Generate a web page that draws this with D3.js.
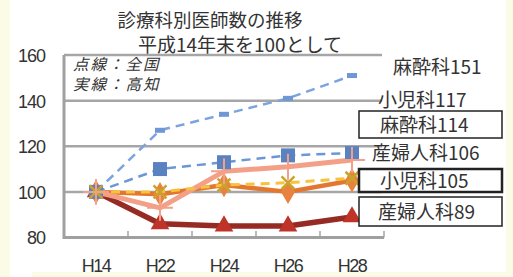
<!DOCTYPE html>
<html>
<head>
<meta charset="utf-8">
<script src="https://cdn.jsdelivr.net/npm/d3@7"></script>
<style>
  html, body { margin: 0; padding: 0; background: #fbfbe6; }
  svg { display: block; }
  .num { font-family: "Liberation Sans Narrow", "Liberation Sans", Arial, sans-serif; font-size: 18px; fill: #333; }
  .jp { font-family: "Noto Sans CJK JP", sans-serif; fill: #333; }
</style>
</head>
<body>
<svg id="chart" width="513" height="277"></svg>
<script>
const categories = ['H14', 'H22', 'H24', 'H26', 'H28'];
const yTicks = [80, 100, 120, 140, 160];

// 全国 (dashed)
const zenkokuMasui = [100, 127, 134, 141, 151];
const zenkokuShoni = [100, 110, 113, 116, 117];
const zenkokuSanpu = [100, 100, 103, 104, 106];
// 高知 (solid)
const kochiMasui = [100, 93, 109, 111, 114];
const kochiShoni = [100, 99, 103, 100, 105];
const kochiSanpu = [100, 86, 85, 85, 89];

const titleLines = ['診療科別医師数の推移', '平成14年末を100として'];
const noteLines = ['点線：全国', '実線：高知'];

const svg = d3.select('#chart');

// panel background
svg.append('rect').attr('x', 10).attr('y', 0).attr('width', 496).attr('height', 272).attr('fill', '#fff');
svg.append('rect').attr('x', 10).attr('y', 270).attr('width', 22).attr('height', 7).attr('fill', '#fff');

const x = d3.scaleBand().domain(categories).range([64, 384]);
const y = d3.scaleLinear().domain([80, 160]).range([237.5, 55]);
const cx = (d) => x(d) + x.bandwidth() / 2;

// gridlines
svg.append('g')
    .selectAll('line')
    .data(yTicks.filter((t) => t > 80))
    .join('line')
    .attr('x1', 64).attr('x2', 382)
    .attr('y1', (d) => y(d)).attr('y2', (d) => y(d))
    .attr('stroke', '#a6a6a6').attr('stroke-width', 2.5);

// y labels
const yAxis = svg.append('g')
    .attr('transform', 'translate(45,0)')
    .call(d3.axisLeft(y).tickValues(yTicks).tickSize(0).tickPadding(0));
yAxis.select('.domain').remove();
yAxis.selectAll('text').attr('class', 'num').attr('font-size', null).attr('font-family', null)
    .attr('dy', '0.36em').attr('letter-spacing', -1);

// x axis
const xAxis = svg.append('g')
    .attr('transform', 'translate(0,237.5)')
    .call(d3.axisBottom(x).tickSize(0).tickPadding(0));
xAxis.select('.domain').remove();
xAxis.selectAll('text').attr('class', 'num').attr('font-size', null).attr('font-family', null)
    .attr('dy', 34).attr('letter-spacing', -1.5);

svg.append('g')
    .selectAll('line')
    .data(categories.slice(1).map((d) => x(d)).concat([384]))
    .join('line')
    .attr('x1', (d) => d).attr('x2', (d) => d)
    .attr('y1', 231).attr('y2', 237.5)
    .attr('stroke', '#a6a6a6').attr('stroke-width', 1.5);

svg.append('path')
    .attr('d', 'M64,55 L64,237.5 L384,237.5')
    .attr('fill', 'none').attr('stroke', '#a0a0a0').attr('stroke-width', 3);

const line = d3.line().x((d, i) => cx(categories[i])).y((d) => y(d));

function drawLine(values, color, w, dash) {
    svg.append('path')
        .datum(values)
        .attr('d', line)
        .attr('fill', 'none')
        .attr('stroke', color)
        .attr('stroke-width', w)
        .attr('stroke-linejoin', 'round')
        .attr('stroke-dasharray', dash || null);
}

function drawMarkers(values, symbol, size, fill, stroke, sw) {
    svg.append('g')
        .selectAll('path')
        .data(values)
        .join('path')
        .attr('transform', (d, i) => `translate(${cx(categories[i])},${y(d)})`)
        .attr('d', d3.symbol(symbol, size))
        .attr('fill', fill)
        .attr('stroke', stroke || 'none')
        .attr('stroke-width', sw || 0);
}

// 高知
drawLine(kochiSanpu, '#952b22', 5.5);
drawMarkers(kochiSanpu, d3.symbolTriangle, 150, '#be3428');
drawLine(kochiShoni, '#e3772f', 4.5);
drawMarkers(kochiShoni, d3.symbolDiamond, 170, '#e8823e');
drawLine(kochiMasui, '#f4a088', 5);

// 全国
drawLine(zenkokuMasui, '#7ba3de', 2.5, '9,6');
svg.append('g')
    .selectAll('rect')
    .data(zenkokuMasui)
    .join('rect')
    .attr('x', (d, i) => cx(categories[i]) - 5)
    .attr('y', (d) => y(d) - 2.5)
    .attr('width', 10).attr('height', 5)
    .attr('fill', '#6f97d5');
drawLine(zenkokuShoni, '#6b97d6', 2.5, '9,6');
drawMarkers(zenkokuShoni, d3.symbolSquare, 196, '#5b82c0');
drawLine(zenkokuSanpu, '#f8c33a', 3, '9,6');
drawMarkers(zenkokuSanpu, d3.symbolX, 110, 'none', '#c8a42a', 2.5);

// 高知麻酔科 plus markers on top
drawMarkers(kochiMasui, d3.symbolCross2 || d3.symbolPlus, 220, 'none', '#f4a088', 2);

// title
svg.append('text').attr('class', 'jp').attr('x', 210).attr('y', 27)
    .attr('text-anchor', 'middle').attr('font-size', 18.5).text(titleLines[0]);
svg.append('text').attr('class', 'jp').attr('x', 240).attr('y', 52)
    .attr('text-anchor', 'middle').attr('font-size', 19).text(titleLines[1]);

// note
noteLines.forEach((t, i) => {
    svg.append('text').attr('class', 'jp').attr('x', 73).attr('y', 70 + i * 20)
        .attr('font-size', 15.5).attr('font-style', 'italic').attr('letter-spacing', 2)
        .text(t);
});

// end labels
const endLabels = [
    { text: '麻酔科' + zenkokuMasui[4], x: 393, y: 74, box: null },
    { text: '小児科' + zenkokuShoni[4], x: 378, y: 107, box: null },
    { text: '麻酔科' + kochiMasui[4], x: 380, y: 132, box: [111, 27, 1.5] },
    { text: '産婦人科' + zenkokuSanpu[4], x: 372, y: 160, box: null },
    { text: '小児科' + kochiShoni[4], x: 380, y: 188, box: [169, 23, 2.5] },
    { text: '産婦人科' + kochiSanpu[4], x: 378, y: 219, box: [197, 29, 1.5] }
];

endLabels.forEach((d) => {
    if (d.box) {
        svg.append('rect')
            .attr('x', 359).attr('y', d.box[0])
            .attr('width', 143).attr('height', d.box[1])
            .attr('fill', '#fff').attr('stroke', '#222').attr('stroke-width', d.box[2]);
    }
    svg.append('text').attr('class', 'jp').attr('x', d.x).attr('y', d.y)
        .attr('font-size', 19).text(d.text);
});
</script>
</body>
</html>
